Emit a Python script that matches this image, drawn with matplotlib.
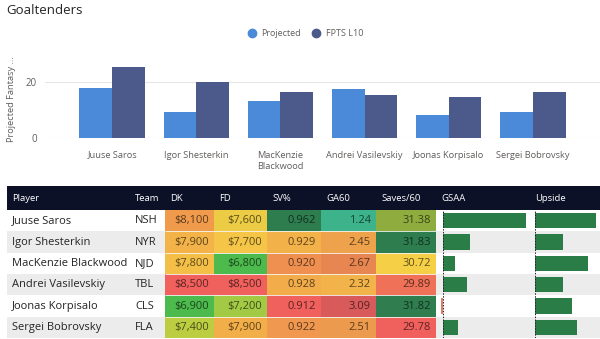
import numpy as np
import matplotlib
matplotlib.use('Agg')
import matplotlib.pyplot as plt
from matplotlib.colors import LinearSegmentedColormap, Normalize, to_rgb
from matplotlib.patches import Rectangle
from matplotlib.lines import Line2D

plt.rcParams['font.family'] = ['Open Sans', 'DejaVu Sans']

# goalie slate data
players = ['Juuse Saros', 'Igor Shesterkin', 'MacKenzie Blackwood',
           'Andrei Vasilevskiy', 'Joonas Korpisalo', 'Sergei Bobrovsky']
chart_labels = ['Juuse Saros', 'Igor Shesterkin', 'MacKenzie\nBlackwood',
                'Andrei Vasilevskiy', 'Joonas Korpisalo', 'Sergei Bobrovsky']
teams = ['NSH', 'NYR', 'NJD', 'TBL', 'CLS', 'FLA']
projected = [17.9, 9.3, 13.2, 17.5, 8.2, 9.3]
fpts_l10 = [25.4, 20.0, 16.4, 15.5, 14.8, 16.4]
dk_salary = [8100, 7900, 7800, 8500, 6900, 7400]
fd_salary = [7600, 7700, 6800, 8500, 7200, 7900]
save_pct = [0.962, 0.929, 0.920, 0.928, 0.912, 0.922]
ga60 = [1.24, 2.45, 2.67, 2.32, 3.09, 2.51]
saves60 = [31.38, 31.83, 30.72, 29.89, 31.82, 29.78]
gsaa = [10.4, 3.4, 1.5, 3.0, -0.3, 1.9]
upside = [30.5, 14.0, 26.5, 14.0, 18.5, 21.0]

C_PROJ = '#4a8ad9'
C_FPTS = '#4b5a8a'
C_GREY = '#605e5c'
C_HEAD = '#0d1128'
C_STRIPE = '#ececec'
C_DATABAR = '#2b7d47'

W, H = 600, 339
fig = plt.figure(figsize=(W / 100, H / 100), dpi=100)


def px_axes(x0, y0, x1, y1):
    # axes placed by pixel box (top-left origin)
    return fig.add_axes([x0 / W, 1 - y1 / H, (x1 - x0) / W, (y1 - y0) / H])


fig.text(6 / W, 1 - 10 / H, 'Goaltenders', fontsize=9.5, color='#252423',
         ha='left', va='center')

# ---- clustered column chart ----
ax = px_axes(45, 60, 600, 138)
x = np.arange(len(players))
w = 0.39
ax.bar(x - w / 2, projected, w, color=C_PROJ, zorder=3)
ax.bar(x + w / 2, fpts_l10, w, color=C_FPTS, zorder=3)
ax.set_xlim(-0.8, 5.8)
ax.set_ylim(0, 27.9)
ax.set_yticks([0, 20])
ax.set_xticks(x)
ax.set_xticklabels(chart_labels, fontsize=6.7, color=C_GREY, linespacing=1.35)
ax.tick_params(axis='both', length=0, labelcolor=C_GREY)
ax.tick_params(axis='y', labelsize=7, pad=6)
ax.tick_params(axis='x', pad=9)
ax.grid(axis='y', color='#e6e6e6', lw=0.8, zorder=0)
for s in ax.spines.values():
    s.set_visible(False)
ax.set_ylabel('Projected Fantasy …', fontsize=6.7, color=C_GREY, labelpad=7)

handles = [Line2D([], [], ls='', marker='o', ms=6, color=C_PROJ),
           Line2D([], [], ls='', marker='o', ms=6, color=C_FPTS)]
fig.legend(handles, ['Projected', 'FPTS L10'], loc='center',
           bbox_to_anchor=(0.505, 1 - 34 / H), ncol=2, frameon=False,
           fontsize=6.5, labelcolor=C_GREY, handletextpad=0.05,
           columnspacing=0.7, borderaxespad=0)

# ---- table ----
tab = px_axes(7, 186, 600, 338)
tab.set_xlim(7, 600)
tab.set_ylim(338, 186)
tab.axis('off')

col_left = [7, 130, 165, 214, 267, 321, 376, 436, 530]
col_right = col_left[1:] + [600]
headers = ['Player', 'Team', 'DK', 'FD', 'SV%', 'GA60', 'Saves/60', 'GSAA', 'Upside']
head_top, head_bot = 186, 210
row_h = (338 - head_bot) / len(players)

tab.add_patch(Rectangle((7, head_top), 593, head_bot - head_top, color=C_HEAD, lw=0))
for left, name in zip(col_left, headers):
    tab.text(left + 5, (head_top + head_bot) / 2, name, color='white',
             fontsize=6.8, ha='left', va='center')

for i in range(len(players)):
    top = head_bot + i * row_h
    if i % 2 == 1:
        tab.add_patch(Rectangle((7, top), 593, row_h, color=C_STRIPE, lw=0))
    yc = top + row_h / 2
    tab.text(12, yc, players[i], fontsize=8, color='#252423', va='center')
    tab.text(135, yc, teams[i], fontsize=8, color='#252423', va='center')

# colour scales, one per column type (worst -> best)
scale_salary = LinearSegmentedColormap.from_list(
    'salary', [(0, '#f0605c'), (0.25, '#f09a4c'), (0.5, '#f5cb45'),
               (0.72, '#b3cd42'), (1, '#4cba4c')])
scale_rate = LinearSegmentedColormap.from_list(
    'rate', [(0, '#f0605c'), (0.12, '#ee8a52'), (0.32, '#f3ac4a'),
             (0.46, '#f5cf45'), (0.78, '#8fad3f'), (1, '#2e7d4f')])
scale_ga = LinearSegmentedColormap.from_list(
    'ga', [(0, '#d95a5a'), (0.25, '#e88a50'), (0.4, '#f2b04a'),
           (0.5, '#f3c24a'), (0.75, '#a8c860'), (1, '#3cb38a')])

heat_cols = [
    (dk_salary, lambda v: f'${v:,.0f}', scale_salary, True),
    (fd_salary, lambda v: f'${v:,.0f}', scale_salary, True),
    (save_pct, lambda v: f'{v:.3f}', scale_rate, False),
    (ga60, lambda v: f'{v:.2f}', scale_ga, True),
    (saves60, lambda v: f'{v:.2f}', scale_rate, False),
]

for k, (vals, fmt, cmap, low_good) in enumerate(heat_cols):
    left, right = col_left[2 + k], col_right[2 + k]
    norm = Normalize(min(vals), max(vals))
    for i, v in enumerate(vals):
        t = norm(v)
        if low_good:
            t = 1 - t
        bg = np.array(to_rgb(cmap(t)))
        top = head_bot + i * row_h
        tab.add_patch(Rectangle((left, top), right - left, row_h,
                                facecolor=bg, lw=0))
        tab.text(right - 5, top + row_h / 2, fmt(v), fontsize=8,
                 color=tuple(bg * 0.38), ha='right', va='center')

# faint row separators across the coloured block
for i in range(1, len(players)):
    tab.hlines(head_bot + i * row_h, col_left[2], col_right[6],
               color='#f6f6f6', lw=0.6)


# ---- data bar columns ----
def data_bars(x0, x1, vals, lo, hi):
    bx = px_axes(x0, head_bot, x1, 338)
    bx.patch.set_alpha(0)
    bx.set_xlim(lo, hi)
    bx.set_ylim(len(vals) - 0.5, -0.5)
    bx.barh(np.arange(len(vals)), vals, height=0.72,
            color=[C_DATABAR if v >= 0 else '#e07a6a' for v in vals])
    bx.axvline(0, color='#222222', lw=0.7, ls=(0, (1.5, 1.5)))
    bx.axis('off')
    return bx


data_bars(436, 530, gsaa, -0.875, 10.875)
data_bars(530, 600, upside, -2.5, 32.5)

fig.savefig('out.png', dpi=100)
